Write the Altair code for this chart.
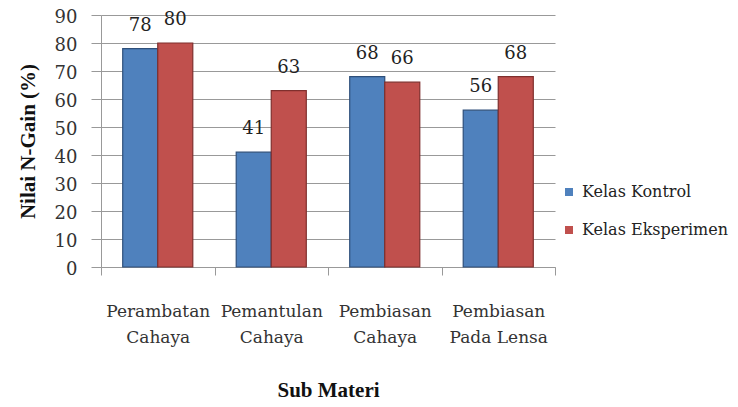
import altair as alt
import pandas as pd

categories = ["Perambatan Cahaya", "Pemantulan Cahaya", "Pembiasan Cahaya", "Pembiasan Pada Lensa"]
series = ["Kelas Kontrol", "Kelas Eksperimen"]
kontrol = [78, 41, 68, 56]
eksperimen = [80, 63, 66, 68]

rows = []
for c, k, e in zip(categories, kontrol, eksperimen):
    rows.append({"cat": c, "series": series[0], "value": k})
    rows.append({"cat": c, "series": series[1], "value": e})
df = pd.DataFrame(rows)

BOLD = "Liberation Serif"
REG = "DejaVu Serif"

label_expr = ("datum.label == 'Perambatan Cahaya' ? ['Perambatan', 'Cahaya'] : "
              "datum.label == 'Pemantulan Cahaya' ? ['Pemantulan', 'Cahaya'] : "
              "datum.label == 'Pembiasan Cahaya' ? ['Pembiasan', 'Cahaya'] : "
              "datum.label == 'Pembiasan Pada Lensa' ? ['Pembiasan', 'Pada Lensa'] : ''")

x = alt.X("cat:N", sort=categories, title="Sub Materi",
          scale=alt.Scale(paddingInner=0, paddingOuter=0),
          axis=alt.Axis(labelAngle=0, labelExpr=label_expr, tickBand="extent",
                        grid=False, labelFont=REG, labelFontSize=17, labelColor="#333333",
                        labelLineHeight=26, labelPadding=28, tickSize=8, tickColor="#999999",
                        domainColor="#999999", titleFont=BOLD, titleFontSize=21,
                        titleFontWeight="bold", titleColor="#111111", titlePadding=34))
xo = alt.XOffset("series:N", sort=series,
                 scale=alt.Scale(paddingInner=0, paddingOuter=0.62))
y = alt.Y("value:Q", title="Nilai N-Gain (%)",
          scale=alt.Scale(domain=[0, 90]),
          axis=alt.Axis(values=list(range(0, 91, 10)), grid=True, gridColor="#999999",
                        labelOverlap=False, labelFlush=False, labelOffset=2,
                        labelFont=REG, labelFontSize=18, labelColor="#333333",
                        labelPadding=14, tickSize=10, tickColor="#999999", domainColor="#999999",
                        titleFont=BOLD, titleFontSize=21, titleFontWeight="bold",
                        titleColor="#111111", titlePadding=16))
color = alt.Color("series:N", sort=series,
                  scale=alt.Scale(domain=series, range=["#4F81BD", "#C0504D"]),
                  legend=alt.Legend(title=None, orient="none", legendX=460, legendY=169,
                                    symbolType="square", symbolSize=64, symbolStrokeWidth=0,
                                    labelFont=REG, labelFontSize=16, labelColor="#222222",
                                    rowPadding=22, padding=0, labelOffset=5))
stroke = alt.Stroke("series:N", sort=series,
                    scale=alt.Scale(domain=series, range=["#2E4F7A", "#7F2F2D"]), legend=None)

bars = alt.Chart().mark_bar(strokeWidth=1.2).encode(color=color, stroke=stroke)
labels = alt.Chart().mark_text(font=REG, fontSize=18, baseline="alphabetic", dy=-18,
                               color="#222222").encode(text="value:Q")

chart = alt.layer(bars, labels, data=df).encode(x=x, xOffset=xo, y=y).properties(
    width=454, height=252,
    autosize=alt.AutoSizeParams(type="none"),
    padding={"left": 93, "top": 7, "right": 175, "bottom": 140},
    background="white",
).configure_view(stroke=None)

chart.save("out.html", embed_options={"renderer": "svg", "actions": False})
